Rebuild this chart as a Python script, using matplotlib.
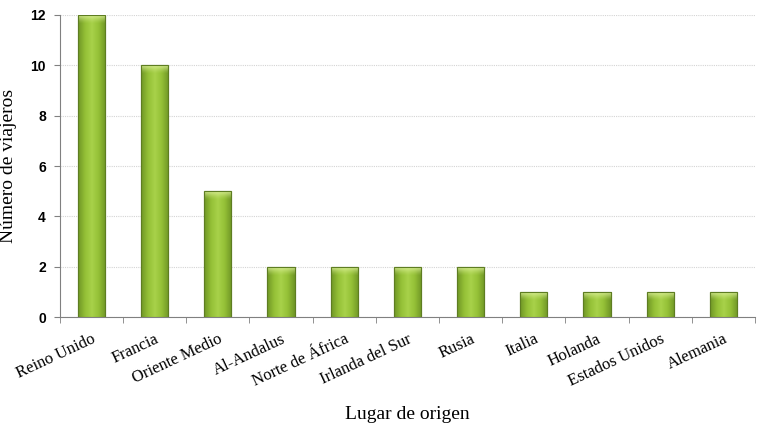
import matplotlib.pyplot as plt
import numpy as np
from matplotlib.colors import LinearSegmentedColormap

lugares = ['Reino Unido', 'Francia', 'Oriente Medio', 'Al-Andalus', 'Norte de África',
           'Irlanda del Sur', 'Rusia', 'Italia', 'Holanda', 'Estados Unidos', 'Alemania']
viajeros = [12, 10, 5, 2, 2, 2, 2, 1, 1, 1, 1]
yticks = [0, 2, 4, 6, 8, 10, 12]

serif = 'Liberation Serif'
sans = 'Liberation Sans'

fig = plt.figure(figsize=(7.58, 4.38), dpi=100)
ax = fig.add_axes([0.079, 0.276, 0.917, 0.69])

x = np.arange(len(lugares))
width = 0.43
bars = ax.bar(x, viajeros, width=width, color='#8db634', edgecolor='#5e7d22',
              linewidth=0.8, zorder=3)

# gradient fill: bright in the middle, darker to the sides
cmap = LinearSegmentedColormap.from_list('g', ['#6f9626', '#94c036', '#a8d24a', '#94c036', '#6f9626'])
grad = np.tile(np.linspace(0, 1, 64), (64, 1))
# top glow: pale yellow-green fading downwards
glow = np.zeros((32, 1, 4))
glow[..., :3] = np.array([0.88, 0.95, 0.62])
glow[:, 0, 3] = np.linspace(0.9, 0, 32) ** 1.5
for b in bars:
    x0, y0 = b.get_x(), b.get_y()
    w, h = b.get_width(), b.get_height()
    im = ax.imshow(grad, cmap=cmap, aspect='auto', extent=(x0, x0 + w, y0, y0 + h),
                   zorder=3.5, interpolation='bicubic')
    im.set_clip_path(b)
    g = ax.imshow(glow, aspect='auto', extent=(x0, x0 + w, y0 + h - 0.35, y0 + h),
                  zorder=3.6, interpolation='bilinear')
    g.set_clip_path(b)
    ax.add_patch(plt.Rectangle((x0, y0), w, h, facecolor='none', edgecolor='#5e7d22',
                               linewidth=0.8, zorder=4))

ax.set_xlim(-0.5, len(lugares) - 0.5)
ax.set_ylim(0, 12)
ax.set_yticks(yticks)
ax.set_yticklabels([str(v) for v in yticks], fontfamily=sans, fontweight='bold', fontsize=10)
ax.yaxis.grid(True, linestyle=(0, (1, 1)), color='#d4d4d4', linewidth=0.8, zorder=0)

ax.set_xticks(x)
ax.set_xticklabels(lugares, rotation=25, ha='right', rotation_mode='anchor',
                   fontfamily=serif, fontsize=12)
ax.set_xticks(np.arange(-0.5, len(lugares)), minor=True)
ax.tick_params(axis='x', which='major', length=0, pad=10)
ax.tick_params(axis='x', which='minor', length=4, color='#808080')
ax.tick_params(axis='y', length=4, color='#808080', pad=6)

for s in ['top', 'right']:
    ax.spines[s].set_visible(False)
for s in ['left', 'bottom']:
    ax.spines[s].set_color('#808080')

ax.set_ylabel('Número de viajeros', fontfamily=serif, fontsize=14, labelpad=10)
ax.set_xlabel('Lugar de origen', fontfamily=serif, fontsize=14, labelpad=12)

fig.savefig('out.png', dpi=100)
